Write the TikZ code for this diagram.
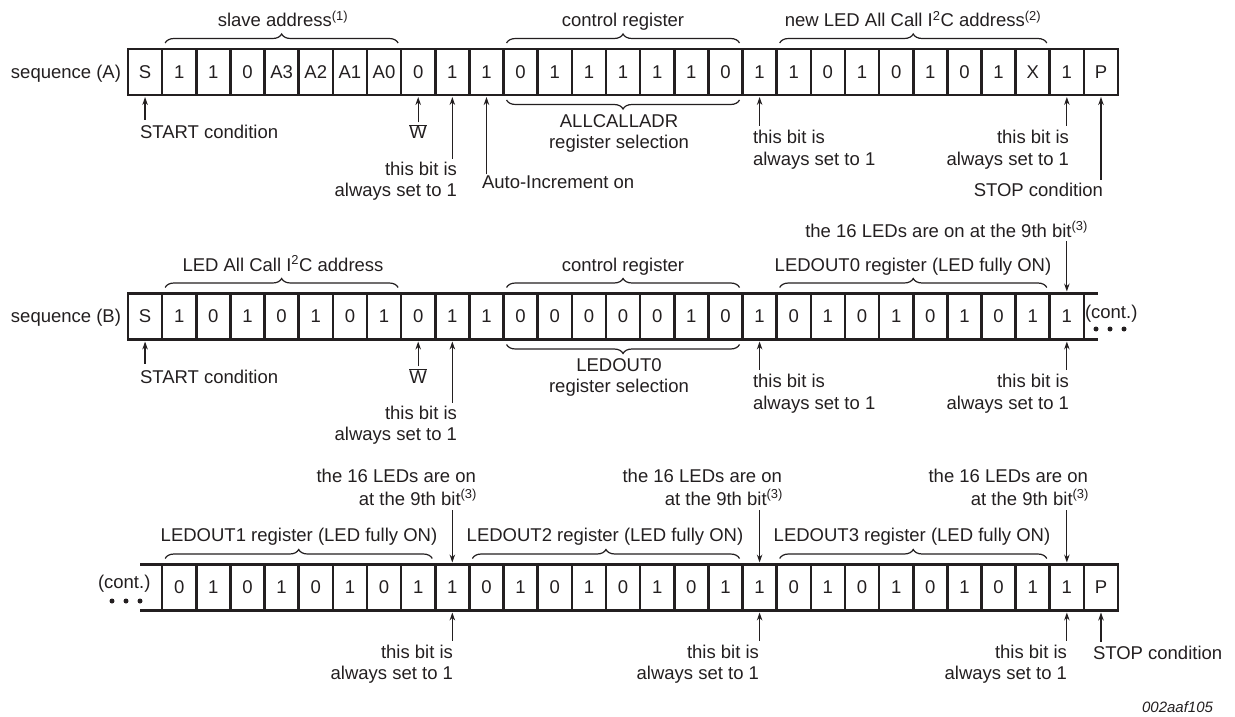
\documentclass[tikz,border=0pt]{standalone}
\usepackage{fontspec}
\setmainfont{Liberation Sans}
\usetikzlibrary{arrows.meta,decorations.pathreplacing,calc}
\definecolor{ink}{HTML}{231F20}
\begin{document}
\begin{tikzpicture}[x=1pt,y=1pt,
  every node/.style={font=\fontsize{18.5}{21}\selectfont, text=ink, inner sep=0pt, outer sep=0pt},
  bitbox/.style={draw=ink, line width=2.6pt, minimum width=34.14pt, minimum height=46pt, anchor=center},
  lbl/.style={anchor=base},
  lblL/.style={anchor=base west},
  lblR/.style={anchor=base east},
  arr/.style={draw=ink, line width=1.2pt, -{Stealth[length=8pt,width=5.5pt]}, shorten >=2pt},
  brc/.style={draw=ink, line width=1.2pt, decorate, decoration={brace, amplitude=9pt}},
  rowline/.style={draw=ink, line width=2.6pt},
  dot/.style={fill=ink, circle, minimum size=5pt}
]
\useasboundingbox (0,0) rectangle (1235,-717);

% ---------- row A ----------
\foreach \t [count=\i from 0] in {S,1,1,0,A3,A2,A1,A0,0,1,1,0,1,1,1,1,1,0,1,1,0,1,0,1,0,1,X,1,P}
  \node[bitbox] (A\i) at ({128+34.14*(\i+0.5)},-72) {\t};
\node[lblR] (seqA) at (121,-78) {sequence (A)};
\node[lbl] (labSlave) at (283,-27) {slave address\textsuperscript{(1)}};
\node[lbl] (labCtrlA) at (623,-27) {control register};
\node[lbl] (labNewA) at (913,-27) {new LED All Call I\textsuperscript{2}C address\textsuperscript{(2)}};
\draw[brc] ($(A1.north west)+(3,6)$) -- ($(A7.north east)+(-3,6)$);
\draw[brc] ($(A11.north west)+(3,6)$) -- ($(A17.north east)+(-3,6)$);
\draw[brc] ($(A19.north west)+(3,6)$) -- ($(A26.north east)+(-3,6)$);
\draw[brc] ($(A17.south east)+(-3,-5)$) -- ($(A11.south west)+(3,-5)$);
\node[lblL] (startA) at (140,-139) {START condition};
\node[lbl] (wA) at (418,-139) {$\overline{\mbox{W}}$};
\node[lblR] (a9a) at (457,-175) {this bit is};
\node[lblR] (a9b) at (457,-196) {always set to 1};
\node[lblL] (autoA) at (482,-188) {Auto-Increment on};
\node[lbl] (allc1) at (619,-127) {ALLCALLADR};
\node[lbl] (allc2) at (619,-148) {register selection};
\node[lblL] (a18a) at (753,-143) {this bit is};
\node[lblL] (a18b) at (753,-165) {always set to 1};
\node[lblR] (a27a) at (1069,-143) {this bit is};
\node[lblR] (a27b) at (1069,-165) {always set to 1};
\node[lblR] (stopA) at (1103,-196) {STOP condition};
\draw[arr] ($(A0.south |- startA.north)+(0,6)$) -- (A0.south);
\draw[arr] ($(A8.south |- wA.north)+(0,2)$) -- (A8.south);
\draw[arr] ($(A9.south |- a9a.north)+(0,3)$) -- (A9.south);
\draw[arr] ($(A10.south |- autoA.north)+(0,1)$) -- (A10.south);
\draw[arr] ($(A18.south |- a18a.north)+(0,4)$) -- (A18.south);
\draw[arr] ($(A27.south |- a27a.north)+(0,4)$) -- (A27.south);
\draw[arr] ($(A28.south |- stopA.north)+(0,3)$) -- (A28.south);

% ---------- row B ----------
\foreach \t [count=\i from 0] in {S,1,0,1,0,1,0,1,0,1,1,0,0,0,0,0,1,0,1,0,1,0,1,0,1,0,1,1}
  \node[bitbox] (B\i) at ({128+34.14*(\i+0.5)},-316.5) {\t};
\draw[rowline] (B27.north east) -- ++(14,0);
\draw[rowline] (B27.south east) -- ++(14,0);
\node[lblR] (seqB) at (121,-322) {sequence (B)};
\node[lbl] (labLedB) at (283,-271) {LED All Call I\textsuperscript{2}C address};
\node[lbl] (labCtrlB) at (623,-271) {control register};
\node[lbl] (labOut0) at (913,-271) {LEDOUT0 register (LED fully ON)};
\node[lblR] (on9B) at (1088,-237) {the 16 LEDs are on at the 9th bit\textsuperscript{(3)}};
\draw[brc] ($(B1.north west)+(3,6)$) -- ($(B7.north east)+(-3,6)$);
\draw[brc] ($(B11.north west)+(3,6)$) -- ($(B17.north east)+(-3,6)$);
\draw[brc] ($(B19.north west)+(3,6)$) -- ($(B26.north east)+(-3,6)$);
\draw[brc] ($(B17.south east)+(-3,-5)$) -- ($(B11.south west)+(3,-5)$);
\node[lblL] (startB) at (140,-383) {START condition};
\node[lbl] (wB) at (418,-383) {$\overline{\mbox{W}}$};
\node[lblR] (b9a) at (457,-419) {this bit is};
\node[lblR] (b9b) at (457,-440) {always set to 1};
\node[lbl] (out0a) at (619,-371) {LEDOUT0};
\node[lbl] (out0b) at (619,-392) {register selection};
\node[lblL] (b18a) at (753,-387) {this bit is};
\node[lblL] (b18b) at (753,-409) {always set to 1};
\node[lblR] (b27a) at (1069,-387) {this bit is};
\node[lblR] (b27b) at (1069,-409) {always set to 1};
\node[lblL] (contB) at (1085,-318) {(cont.)};
\node[dot] (dB1) at (1096,-329) {};
\node[dot] (dB2) at (1110,-329) {};
\node[dot] (dB3) at (1124,-329) {};
\draw[arr] ($(B27.north |- on9B.south)+(0,-4)$) -- (B27.north);
\draw[arr] ($(B0.south |- startB.north)+(0,6)$) -- (B0.south);
\draw[arr] ($(B8.south |- wB.north)+(0,2)$) -- (B8.south);
\draw[arr] ($(B9.south |- b9a.north)+(0,3)$) -- (B9.south);
\draw[arr] ($(B18.south |- b18a.north)+(0,4)$) -- (B18.south);
\draw[arr] ($(B27.south |- b27a.north)+(0,4)$) -- (B27.south);

% ---------- row C ----------
\foreach \t [count=\i from 1] in {0,1,0,1,0,1,0,1,1,0,1,0,1,0,1,0,1,1,0,1,0,1,0,1,0,1,1,P}
  \node[bitbox] (C\i) at ({128+34.14*(\i+0.5)},-587.5) {\t};
\draw[rowline] (C1.north west) -- ++(-22,0);
\draw[rowline] (C1.south west) -- ++(-22,0);
\node[lblL] (contC) at (98,-588) {(cont.)};
\node[dot] (dC1) at (112,-601) {};
\node[dot] (dC2) at (126,-601) {};
\node[dot] (dC3) at (140,-601) {};
\node[lbl] (labOut1) at (299,-541) {LEDOUT1 register (LED fully ON)};
\node[lbl] (labOut2) at (605,-541) {LEDOUT2 register (LED fully ON)};
\node[lbl] (labOut3) at (912,-541) {LEDOUT3 register (LED fully ON)};
\draw[brc] ($(C1.north west)+(3,6)$) -- ($(C8.north east)+(-3,6)$);
\draw[brc] ($(C10.north west)+(3,6)$) -- ($(C17.north east)+(-3,6)$);
\draw[brc] ($(C19.north west)+(3,6)$) -- ($(C26.north east)+(-3,6)$);
\node[lblR] (c9t) at (476,-482) {the 16 LEDs are on};
\node[lblR] (c9u) at (477,-505) {at the 9th bit\textsuperscript{(3)}};
\node[lblR] (c18t) at (782,-482) {the 16 LEDs are on};
\node[lblR] (c18u) at (783,-505) {at the 9th bit\textsuperscript{(3)}};
\node[lblR] (c27t) at (1088,-482) {the 16 LEDs are on};
\node[lblR] (c27u) at (1089,-505) {at the 9th bit\textsuperscript{(3)}};
\draw[arr] ($(C9.north |- c9u.south)+(0,-5)$) -- (C9.north);
\draw[arr] ($(C18.north |- c18u.south)+(0,-5)$) -- (C18.north);
\draw[arr] ($(C27.north |- c27u.south)+(0,-5)$) -- (C27.north);
\node[lblR] (c9a) at (453,-658) {this bit is};
\node[lblR] (c9b) at (453,-679) {always set to 1};
\node[lblR] (c18a) at (759,-658) {this bit is};
\node[lblR] (c18b) at (759,-679) {always set to 1};
\node[lblR] (c27a) at (1067,-658) {this bit is};
\node[lblR] (c27b) at (1067,-679) {always set to 1};
\node[lblL] (stopC) at (1093,-659) {STOP condition};
\draw[arr] ($(C9.south |- c9a.north)+(0,4)$) -- (C9.south);
\draw[arr] ($(C18.south |- c18a.north)+(0,4)$) -- (C18.south);
\draw[arr] ($(C27.south |- c27a.north)+(0,4)$) -- (C27.south);
\draw[arr] ($(C28.south |- stopC.north)+(0,4)$) -- (C28.south);
\node[lblR] (code) at (1213,-712) {\fontsize{15}{18}\selectfont\itshape 002aaf105};
\end{tikzpicture}
\end{document}
